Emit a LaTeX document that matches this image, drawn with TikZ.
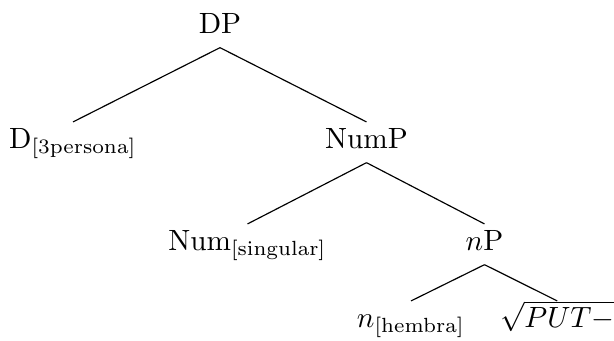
\documentclass[tikz,border=0pt]{standalone}
\begin{document}
\begin{tikzpicture}[x=0.3413pt, y=-0.3413pt,
  tn/.style={inner sep=0pt, outer sep=0pt, text height=8.9pt, text depth=5pt, anchor=base},
  edge/.style={draw=black, line width=0.4pt}]
\useasboundingbox (0,0) rectangle (614,340);
\clip (0,0) rectangle (614,340);
\node[tn] (dp) at (220,33) {DP};
\node[tn] (d) at (73,148) {D$_{\mathrm{[3persona]}}$};
\node[tn] (nump) at (366.5,148) {NumP};
\node[tn] (num) at (247.5,250) {Num$_{\mathrm{[singular]}}$};
\node[tn] (np) at (484.5,250) {$n$P};
\node[tn] (nh) at (411,327) {$n_{\mathrm{[hembra]}}$};
\node[tn, anchor=base west] (root) at (500,327) {$\sqrt{PUT-}$};
\draw[edge] (dp.south) -- (d.north);
\draw[edge] (dp.south) -- (nump.north);
\draw[edge] (nump.south) -- (num.north);
\draw[edge] (nump.south) -- (np.north);
\draw[edge] (np.south) -- (nh.north);
\draw[edge] (np.south) -- (root.north);
\end{tikzpicture}
\end{document}
